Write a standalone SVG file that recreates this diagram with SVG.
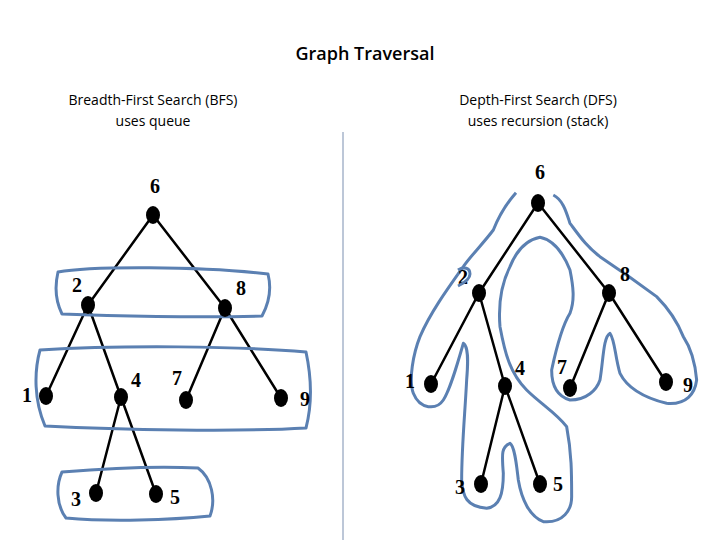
<svg xmlns="http://www.w3.org/2000/svg" width="720" height="540" viewBox="0 0 720 540">
<style>
.t{font-family:"Open Sans","Liberation Sans",sans-serif;fill:#000;text-anchor:middle}
.n{font-family:"Liberation Serif",serif;font-weight:bold;font-size:20px;fill:#000;text-anchor:middle}
.e{stroke:#000;stroke-width:2.5;fill:none}
.b{stroke:#5b80b2;stroke-width:3;fill:none;stroke-linejoin:round}
</style>
<rect width="720" height="540" fill="#fff"/>
<text class="t" x="365" y="60" font-size="18" font-weight="600">Graph Traversal</text>
<text class="t" x="153" y="105" font-size="14">Breadth-First Search (BFS)</text>
<text class="t" x="153" y="126" font-size="14">uses queue</text>
<text class="t" x="538" y="105" font-size="14">Depth-First Search (DFS)</text>
<text class="t" x="538" y="126" font-size="14">uses recursion (stack)</text>
<line x1="343" y1="132" x2="343" y2="540" stroke="#7a8fb0" stroke-width="1"/>
<g id="connectors">
<path class="e" d="M153,215L88,305M153,215L225,308M88,305L46,396M88,305L121,397M225,308L186,400M225,308L281,398M121,397L96,493M121,397L156,494"/>
<path class="e" d="M538,203L479,293M538,203L609,293M479,293L431,384M479,293L505,386M609,293L570,388M609,293L666,382M505,386L481,484M505,386L540,484"/>
</g>
<g id="bfs-outlines">
<path class="b" d="M58,272C90,266 200,266 268,274C272,290 268,305 262,316C200,318 110,316 62,314C55,300 55,285 58,272Z"/>
<path class="b" d="M40,350C120,345 240,346 306,352C312,380 312,405 306,428C240,432 120,430 45,426C34,400 34,372 40,350Z"/>
<path class="b" d="M62,472C110,468 160,466 198,468C212,478 216,500 210,516C170,520 110,522 66,518C56,505 56,485 62,472Z"/>
</g>
<g id="dfs-outline">
<path class="b" transform="translate(400,180) scale(0.3333)" style="stroke-width:9" d="M348,38C320,70 300,100 280,150C250,190 210,230 190,260C140,330 90,400 60,470C40,520 25,600 40,640C60,690 110,690 130,660C150,630 170,560 190,490C205,500 205,540 200,600C195,700 185,800 185,900C188,950 200,980 260,985C300,980 310,940 310,880C305,820 305,800 330,790C345,800 350,860 355,900C365,960 390,1010 430,1025C490,1030 515,990 515,950C515,880 515,820 500,740C470,700 420,670 380,630C330,580 315,520 300,440C295,380 300,320 330,260C350,210 380,180 420,172C460,180 490,220 510,270C520,320 525,360 510,400C485,440 470,500 455,570C455,620 475,650 510,660C560,660 590,630 600,600C610,540 610,470 630,460C645,480 645,530 660,580C680,620 720,650 800,670C860,675 885,640 890,600C885,540 870,500 850,470C830,420 800,380 770,350C730,320 660,270 600,230C560,200 540,170 510,130C500,100 490,60 460,45"/>
</g>
<g id="n6L"><ellipse cx="153" cy="215" rx="7" ry="9"/><text class="n" x="155" y="193">6</text></g>
<g id="n2L"><ellipse cx="88" cy="305" rx="7" ry="9"/><text class="n" x="77" y="292">2</text></g>
<g id="n8L"><ellipse cx="225" cy="308" rx="7" ry="9"/><text class="n" x="241" y="295">8</text></g>
<g id="n1L"><ellipse cx="46" cy="396" rx="7" ry="9"/><text class="n" x="27" y="402">1</text></g>
<g id="n4L"><ellipse cx="121" cy="397" rx="7" ry="9"/><text class="n" x="136" y="387">4</text></g>
<g id="n7L"><ellipse cx="186" cy="400" rx="7" ry="9"/><text class="n" x="177" y="385">7</text></g>
<g id="n9L"><ellipse cx="281" cy="398" rx="7" ry="9"/><text class="n" x="305" y="406">9</text></g>
<g id="n3L"><ellipse cx="96" cy="493" rx="7" ry="9"/><text class="n" x="76" y="506">3</text></g>
<g id="n5L"><ellipse cx="156" cy="494" rx="7" ry="9"/><text class="n" x="175" y="504">5</text></g>
<g id="n6R"><ellipse cx="538" cy="203" rx="7" ry="9"/><text class="n" x="540" y="179">6</text></g>
<g id="n2R"><ellipse cx="479" cy="293" rx="7" ry="9"/><text class="n" x="463" y="284">2</text><path d="M458,270c6,-4 12,-2 12,4c0,6 -8,10 -12,12" stroke="#5b80b2" stroke-width="3" fill="none"/></g>
<g id="n8R"><ellipse cx="609" cy="293" rx="7" ry="9"/><text class="n" x="625" y="281">8</text></g>
<g id="n1R"><ellipse cx="431" cy="384" rx="7" ry="9"/><text class="n" x="410" y="388">1</text></g>
<g id="n4R"><ellipse cx="505" cy="386" rx="7" ry="9"/><text class="n" x="520" y="375">4</text></g>
<g id="n7R"><ellipse cx="570" cy="388" rx="7" ry="9"/><text class="n" x="562" y="374">7</text></g>
<g id="n9R"><ellipse cx="666" cy="382" rx="7" ry="9"/><text class="n" x="688" y="392">9</text></g>
<g id="n3R"><ellipse cx="481" cy="484" rx="7" ry="9"/><text class="n" x="460" y="494">3</text></g>
<g id="n5R"><ellipse cx="540" cy="484" rx="7" ry="9"/><text class="n" x="558" y="491">5</text></g>
</svg>
